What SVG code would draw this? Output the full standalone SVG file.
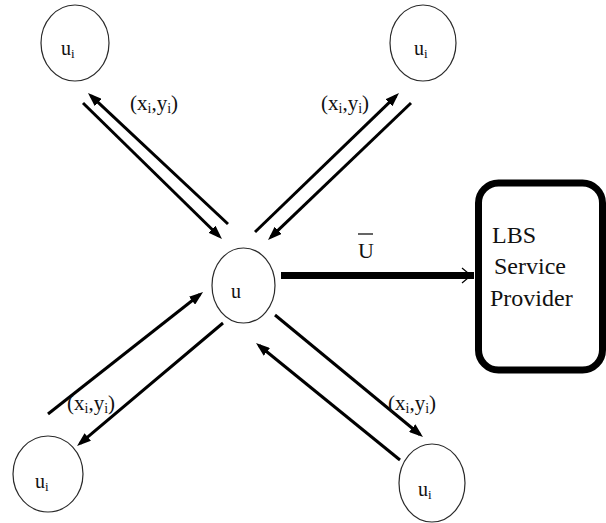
<svg xmlns="http://www.w3.org/2000/svg" width="606" height="523" viewBox="0 0 606 523">
  <style>
    .user { fill: none; stroke: #2a2a2a; stroke-width: 1.2; }
    .lbl { font-family: "Liberation Serif", "Times New Roman", serif; fill: #111; }
    .name { font-size: 20px; }
    .sub { font-size: 13px; }
    .coord { font-size: 21px; }
    .coord-sub { font-size: 14px; }
    .box-text { font-size: 24px; }
    .link { stroke: #000; stroke-width: 3; fill: none; marker-end: url(#head); }
  </style>
  <defs>
    <marker id="head" viewBox="0 0 14 10" refX="10" refY="5" markerWidth="14" markerHeight="10" markerUnits="userSpaceOnUse" orient="auto">
      <path d="M0,0 L14,5 L0,10 z" fill="#000"/>
    </marker>
  </defs>
  <rect width="606" height="523" fill="#fff"/>

  <!-- location exchanges between u and its neighbours -->
  <g id="connectors">
    <line class="link" x1="228" y1="224" x2="90.9" y2="95.7"/>
    <line class="link" x1="83" y1="103" x2="219.1" y2="236.2"/>
    <line class="link" x1="255" y1="232" x2="396.1" y2="95.8"/>
    <line class="link" x1="411" y1="103" x2="270.9" y2="237.2"/>
    <line class="link" x1="48" y1="414" x2="199.9" y2="294.5"/>
    <line class="link" x1="223" y1="323" x2="80.1" y2="443.4"/>
    <line class="link" x1="275" y1="315" x2="419.9" y2="434.5"/>
    <line class="link" x1="400" y1="460" x2="259.1" y2="345.5"/>
    <!-- request from u to the LBS provider -->
    <line x1="281" y1="275.5" x2="474" y2="275.5" stroke="#000" stroke-width="7"/>
    <polyline points="462,268 471,275.5 462,283" fill="none" stroke="#000" stroke-width="1.2"/>
  </g>

  <g id="coord-labels" class="lbl coord">
    <text x="130" y="110">(x<tspan class="coord-sub" dy="3">i</tspan><tspan dy="-3">,y</tspan><tspan class="coord-sub" dy="3">i</tspan><tspan dy="-3">)</tspan></text>
    <text x="321" y="110">(x<tspan class="coord-sub" dy="3">i</tspan><tspan dy="-3">,y</tspan><tspan class="coord-sub" dy="3">i</tspan><tspan dy="-3">)</tspan></text>
    <text x="67" y="410">(x<tspan class="coord-sub" dy="3">i</tspan><tspan dy="-3">,y</tspan><tspan class="coord-sub" dy="3">i</tspan><tspan dy="-3">)</tspan></text>
    <text x="388" y="410">(x<tspan class="coord-sub" dy="3">i</tspan><tspan dy="-3">,y</tspan><tspan class="coord-sub" dy="3">i</tspan><tspan dy="-3">)</tspan></text>
  </g>

  <g id="u-bar-label">
    <text class="lbl" x="358" y="258" font-size="22">U</text>
    <line x1="358" y1="234" x2="373" y2="234" stroke="#111" stroke-width="1.3"/>
  </g>

  <g id="user-u">
    <ellipse class="user" cx="243.5" cy="285.5" rx="31.5" ry="37.5"/>
    <text class="lbl name" x="231" y="298">u</text>
  </g>

  <g id="neighbour-top-left">
    <ellipse class="user" cx="75" cy="43" rx="34" ry="38"/>
    <text class="lbl name" x="61" y="55">u<tspan class="sub" dy="3">i</tspan></text>
  </g>

  <g id="neighbour-top-right">
    <ellipse class="user" cx="423" cy="43" rx="33" ry="38"/>
    <text class="lbl name" x="414" y="55">u<tspan class="sub" dy="3">i</tspan></text>
  </g>

  <g id="neighbour-bottom-left">
    <ellipse class="user" cx="48" cy="474" rx="35" ry="38"/>
    <text class="lbl name" x="35" y="488">u<tspan class="sub" dy="3">i</tspan></text>
  </g>

  <g id="neighbour-bottom-right">
    <ellipse class="user" cx="432" cy="483" rx="33" ry="39"/>
    <text class="lbl name" x="418" y="496">u<tspan class="sub" dy="3">i</tspan></text>
  </g>

  <g id="lbs-provider">
    <rect x="478.5" y="183" width="124" height="187" rx="20" fill="#fff" stroke="#000" stroke-width="7"/>
    <text class="lbl box-text" x="492" y="243">LBS</text>
    <text class="lbl box-text" x="494" y="274">Service</text>
    <text class="lbl box-text" x="490" y="306">Provider</text>
  </g>
</svg>
